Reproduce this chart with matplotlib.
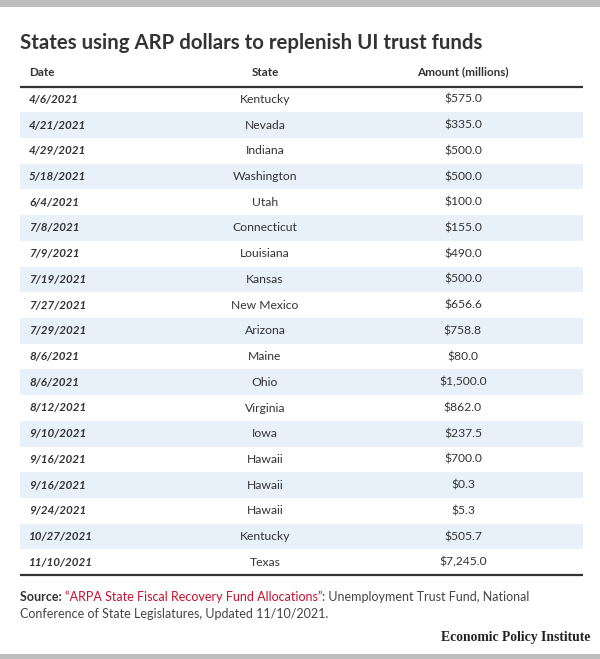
import matplotlib
matplotlib.use("Agg")
import matplotlib.pyplot as plt
from matplotlib.patches import Rectangle

dates = ["4/6/2021", "4/21/2021", "4/29/2021", "5/18/2021", "6/4/2021", "7/8/2021",
         "7/9/2021", "7/19/2021", "7/27/2021", "7/29/2021", "8/6/2021", "8/6/2021",
         "8/12/2021", "9/10/2021", "9/16/2021", "9/16/2021", "9/24/2021", "10/27/2021",
         "11/10/2021"]
states = ["Kentucky", "Nevada", "Indiana", "Washington", "Utah", "Connecticut",
          "Louisiana", "Kansas", "New Mexico", "Arizona", "Maine", "Ohio", "Virginia",
          "Iowa", "Hawaii", "Hawaii", "Hawaii", "Kentucky", "Texas"]
amounts = [575.0, 335.0, 500.0, 500.0, 100.0, 155.0, 490.0, 500.0, 656.6, 758.8,
           80.0, 1500.0, 862.0, 237.5, 700.0, 0.3, 5.3, 505.7, 7245.0]
headers = ["Date", "State", "Amount (millions)"]

title = "States using ARP dollars to replenish UI trust funds"

W, H = 600, 659
fig = plt.figure(figsize=(W / 100, H / 100), dpi=100)
ax = fig.add_axes([0, 0, 1, 1])
ax.set_xlim(0, W)
ax.set_ylim(H, 0)
ax.axis("off")

FONT = ["Lato", "DejaVu Sans"]
TXT = "#333333"

# top and bottom grey bars
ax.add_patch(Rectangle((0, 0), W, 7, color="#bdbdbd", lw=0))
ax.add_patch(Rectangle((0, H - 5), W, 5, color="#bdbdbd", lw=0))

ax.text(20, 43, title, fontsize=14.7, fontweight="bold", color=TXT,
        family=FONT, va="center", ha="left")

left, right = 20, 583
col_x = [29, 265, 463]
HS = 8.4
ax.text(col_x[0], 72, headers[0], fontsize=HS, fontweight="bold", color=TXT,
        family=FONT, va="center", ha="left")
ax.text(col_x[1], 72, headers[1], fontsize=HS, fontweight="bold", color=TXT,
        family=FONT, va="center", ha="center")
ax.text(col_x[2], 72, headers[2], fontsize=HS, fontweight="bold", color=TXT,
        family=FONT, va="center", ha="center")

top = 86.5
rh = 25.72
for i, (d, s, a) in enumerate(zip(dates, states, amounts)):
    y0 = top + i * rh
    yc = y0 + rh / 2
    if i % 2 == 1:
        ax.add_patch(Rectangle((left, y0), right - left, rh, color="#e8f0fa", lw=0))
    ax.text(col_x[0], yc, d, fontsize=8.4, fontweight="bold", style="italic",
            color=TXT, family=FONT, va="center", ha="left")
    ax.text(col_x[1], yc, s, fontsize=8.7, color=TXT, family=FONT,
            va="center", ha="center")
    ax.text(col_x[2], yc, f"${a:,.1f}", fontsize=8.7, color=TXT, family=FONT,
            va="center", ha="center")

ax.plot([left, right], [top, top], color="#333333", lw=1.6, solid_capstyle="butt")
bot = top + len(dates) * rh
ax.plot([left, right], [bot, bot], color="#333333", lw=1.6, solid_capstyle="butt")

# source text pieces
fig.canvas.draw()
renderer = fig.canvas.get_renderer()
inv = ax.transData.inverted()

SS = 9.0

def pieces(x, y, parts):
    for txt, kw in parts:
        t = ax.text(x, y, txt, fontsize=SS, family=FONT, va="center", ha="left", **kw)
        bb = t.get_window_extent(renderer=renderer)
        x = inv.transform((bb.x1, bb.y0))[0]

pieces(20, 597, [("Source: ", dict(fontweight="bold", color=TXT)),
                 ("\u201cARPA State Fiscal Recovery Fund Allocations\u201d", dict(color="#c8102e")),
                 (": Unemployment Trust Fund, National", dict(color="#444444"))])
ax.text(20, 614, "Conference of State Legislatures, Updated 11/10/2021.", fontsize=SS,
        family=FONT, color="#444444", va="center", ha="left")

ax.text(590, 638, "Economic Policy Institute", fontsize=9.8, fontweight="bold",
        family=["Liberation Serif", "DejaVu Serif"], color="#222222", va="center", ha="right")

fig.savefig("out.png", dpi=100)
